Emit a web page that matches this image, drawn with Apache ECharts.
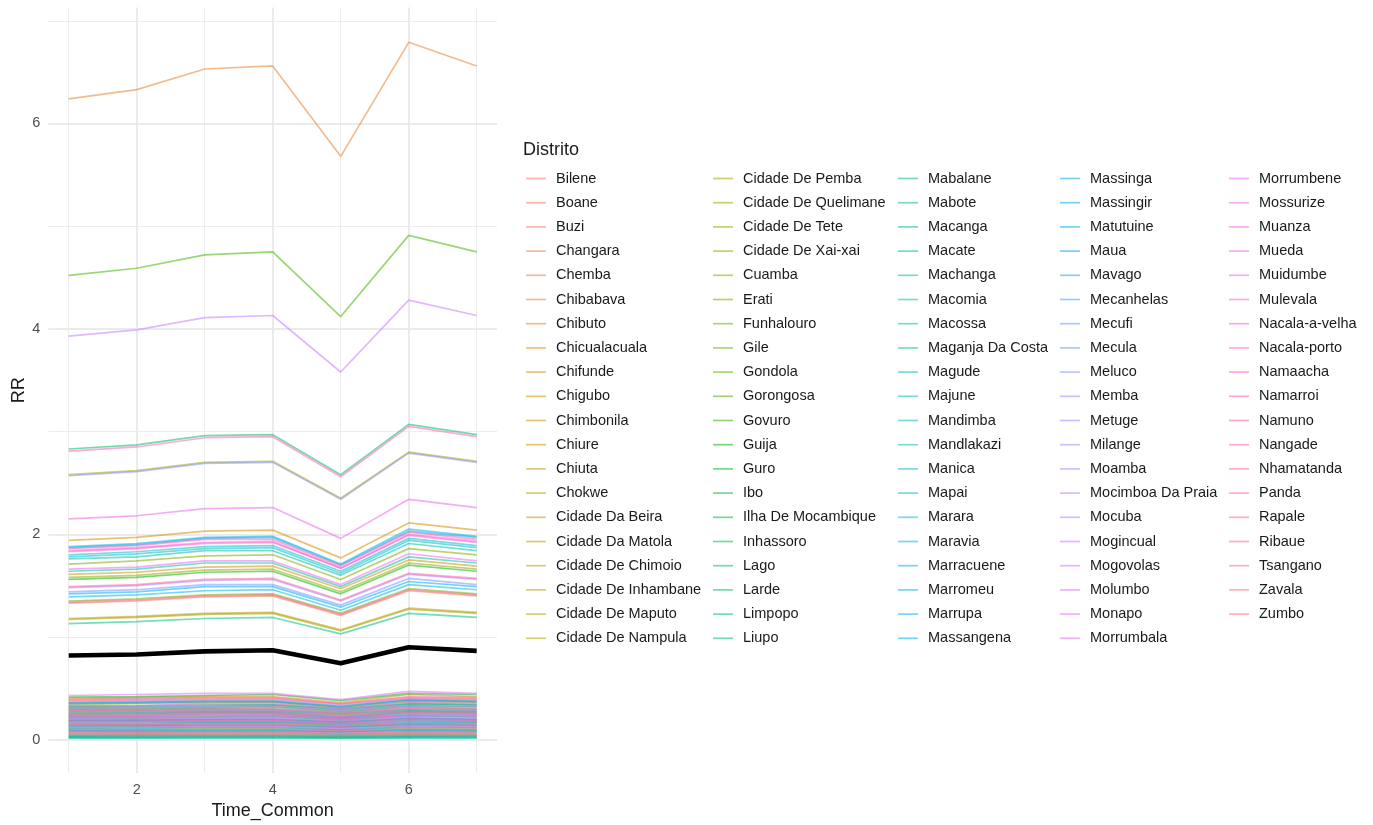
<!DOCTYPE html>
<html>
<head>
<meta charset="utf-8">
<title>RR por Distrito</title>
<script src="https://cdn.jsdelivr.net/npm/echarts@6/dist/echarts.min.js"></script>
<style>
  html, body { margin: 0; padding: 0; background: #ffffff; }
  #chart { width: 1373px; height: 825px; }
</style>
</head>
<body>
<div id="chart"></div>
<script>
// Districts, in legend order
const distritos = [
  'Bilene', 'Boane', 'Buzi', 'Changara', 'Chemba', 'Chibabava', 'Chibuto', 'Chicualacuala',
  'Chifunde', 'Chigubo', 'Chimbonila', 'Chiure', 'Chiuta', 'Chokwe', 'Cidade Da Beira',
  'Cidade Da Matola', 'Cidade De Chimoio', 'Cidade De Inhambane', 'Cidade De Maputo',
  'Cidade De Nampula', 'Cidade De Pemba', 'Cidade De Quelimane', 'Cidade De Tete',
  'Cidade De Xai-xai', 'Cuamba', 'Erati', 'Funhalouro', 'Gile', 'Gondola', 'Gorongosa',
  'Govuro', 'Guija', 'Guro', 'Ibo', 'Ilha De Mocambique', 'Inhassoro', 'Lago', 'Larde',
  'Limpopo', 'Liupo', 'Mabalane', 'Mabote', 'Macanga', 'Macate', 'Machanga', 'Macomia',
  'Macossa', 'Maganja Da Costa', 'Magude', 'Majune', 'Mandimba', 'Mandlakazi', 'Manica',
  'Mapai', 'Marara', 'Maravia', 'Marracuene', 'Marromeu', 'Marrupa', 'Massangena',
  'Massinga', 'Massingir', 'Matutuine', 'Maua', 'Mavago', 'Mecanhelas', 'Mecufi', 'Mecula',
  'Meluco', 'Memba', 'Metuge', 'Milange', 'Moamba', 'Mocimboa Da Praia', 'Mocuba',
  'Mogincual', 'Mogovolas', 'Molumbo', 'Monapo', 'Morrumbala', 'Morrumbene', 'Mossurize',
  'Muanza', 'Mueda', 'Muidumbe', 'Mulevala', 'Nacala-a-velha', 'Nacala-porto', 'Namaacha',
  'Namarroi', 'Namuno', 'Nangade', 'Nhamatanda', 'Panda', 'Rapale', 'Ribaue', 'Tsangano',
  'Zavala', 'Zumbo'
];

// Time steps on the x axis
const timeCommon = [1, 2, 3, 4, 5, 6, 7];

// RR per district (one row per district, same order as above), values at Time_Common 1..7
const rrValues = [
  [0.355, 0.36, 0.37, 0.37, 0.32, 0.39, 0.37],   // Bilene
  [1.33, 1.35, 1.39, 1.40, 1.21, 1.45, 1.40],    // Boane
  [0.195, 0.20, 0.20, 0.20, 0.18, 0.21, 0.20],   // Buzi
  [0.31, 0.31, 0.32, 0.33, 0.28, 0.34, 0.33],    // Changara
  [0.115, 0.12, 0.12, 0.12, 0.10, 0.13, 0.12],   // Chemba
  [6.24, 6.33, 6.53, 6.56, 5.68, 6.79, 6.56],    // Chibabava
  [0.03, 0.030, 0.031, 0.032, 0.027, 0.033, 0.032], // Chibuto
  [0.235, 0.24, 0.25, 0.25, 0.21, 0.26, 0.25],   // Chicualacuala
  [0.165, 0.17, 0.17, 0.17, 0.15, 0.18, 0.17],   // Chifunde
  [0.28, 0.28, 0.29, 0.29, 0.25, 0.30, 0.29],    // Chigubo
  [1.94, 1.97, 2.03, 2.04, 1.77, 2.11, 2.04],    // Chimbonila
  [0.40, 0.41, 0.42, 0.42, 0.36, 0.44, 0.42],    // Chiure
  [1.61, 1.63, 1.68, 1.69, 1.47, 1.75, 1.69],    // Chiuta
  [1.18, 1.20, 1.23, 1.24, 1.07, 1.28, 1.24],    // Chokwe
  [0.065, 0.066, 0.068, 0.068, 0.059, 0.071, 0.068], // Cidade Da Beira
  [0.22, 0.22, 0.23, 0.23, 0.20, 0.24, 0.23],    // Cidade Da Matola
  [0.14, 0.14, 0.15, 0.15, 0.13, 0.15, 0.15],    // Cidade De Chimoio
  [0.04, 0.041, 0.042, 0.042, 0.036, 0.044, 0.042], // Cidade De Inhambane
  [0.26, 0.26, 0.27, 0.27, 0.24, 0.28, 0.27],    // Cidade De Maputo
  [2.58, 2.62, 2.70, 2.71, 2.35, 2.80, 2.71],    // Cidade De Nampula
  [0.34, 0.35, 0.36, 0.36, 0.31, 0.37, 0.36],    // Cidade De Pemba
  [1.17, 1.19, 1.22, 1.23, 1.06, 1.27, 1.23],    // Cidade De Quelimane
  [1.58, 1.60, 1.65, 1.66, 1.44, 1.72, 1.66],    // Cidade De Tete
  [0.09, 0.091, 0.094, 0.095, 0.082, 0.098, 0.095], // Cidade De Xai-xai
  [1.71, 1.74, 1.79, 1.80, 1.56, 1.86, 1.80],    // Cuamba
  [0.185, 0.19, 0.19, 0.19, 0.17, 0.20, 0.19],   // Erati
  [1.35, 1.37, 1.41, 1.42, 1.23, 1.47, 1.42],    // Funhalouro
  [0.10, 0.10, 0.105, 0.105, 0.091, 0.109, 0.105], // Gile
  [0.30, 0.30, 0.31, 0.32, 0.27, 0.33, 0.32],    // Gondola
  [4.52, 4.59, 4.72, 4.75, 4.12, 4.91, 4.75],    // Gorongosa
  [0.15, 0.15, 0.16, 0.16, 0.14, 0.16, 0.16],    // Govuro
  [1.56, 1.58, 1.63, 1.64, 1.42, 1.70, 1.64],    // Guija
  [0.415, 0.42, 0.43, 0.44, 0.38, 0.45, 0.44],   // Guro
  [0.245, 0.25, 0.26, 0.26, 0.22, 0.27, 0.26],   // Ibo
  [0.02, 0.020, 0.021, 0.021, 0.018, 0.022, 0.021], // Ilha De Mocambique
  [0.21, 0.21, 0.22, 0.22, 0.19, 0.23, 0.22],    // Inhassoro
  [0.325, 0.33, 0.34, 0.34, 0.30, 0.35, 0.34],   // Lago
  [2.83, 2.87, 2.96, 2.97, 2.58, 3.07, 2.97],    // Larde
  [0.13, 0.13, 0.14, 0.14, 0.12, 0.14, 0.14],    // Limpopo
  [0.08, 0.081, 0.084, 0.084, 0.073, 0.087, 0.084], // Liupo
  [0.035, 0.036, 0.037, 0.037, 0.032, 0.038, 0.037], // Mabalane
  [1.13, 1.15, 1.18, 1.19, 1.03, 1.23, 1.19],    // Mabote
  [0.05, 0.051, 0.052, 0.053, 0.046, 0.054, 0.053], // Macanga
  [0.27, 0.27, 0.28, 0.28, 0.25, 0.29, 0.28],    // Macate
  [0.175, 0.18, 0.18, 0.18, 0.16, 0.19, 0.18],   // Machanga
  [1.64, 1.66, 1.72, 1.72, 1.49, 1.78, 1.72],    // Macomia
  [1.76, 1.78, 1.84, 1.84, 1.60, 1.91, 1.84],    // Macossa
  [0.36, 0.37, 0.38, 0.38, 0.33, 0.39, 0.38],    // Maganja Da Costa
  [0.015, 0.015, 0.016, 0.016, 0.014, 0.016, 0.016], // Magude
  [0.32, 0.32, 0.33, 0.34, 0.29, 0.35, 0.34],    // Majune
  [1.78, 1.81, 1.86, 1.87, 1.62, 1.94, 1.87],    // Mandimba
  [1.80, 1.83, 1.88, 1.89, 1.64, 1.96, 1.89],    // Mandlakazi
  [0.085, 0.086, 0.089, 0.089, 0.077, 0.092, 0.089], // Manica
  [0.29, 0.29, 0.30, 0.30, 0.26, 0.32, 0.30],    // Mapai
  [1.39, 1.41, 1.45, 1.46, 1.26, 1.51, 1.46],    // Marara
  [0.025, 0.025, 0.026, 0.026, 0.023, 0.027, 0.026], // Maravia
  [1.88, 1.91, 1.97, 1.98, 1.71, 2.05, 1.98],    // Marracuene
  [0.23, 0.23, 0.24, 0.24, 0.21, 0.25, 0.24],    // Marromeu
  [0.11, 0.11, 0.12, 0.12, 0.10, 0.12, 0.12],    // Marrupa
  [0.16, 0.16, 0.17, 0.17, 0.15, 0.17, 0.17],    // Massangena
  [1.87, 1.90, 1.96, 1.97, 1.70, 2.03, 1.97],    // Massinga
  [0.35, 0.36, 0.37, 0.37, 0.32, 0.38, 0.37],    // Massingir
  [1.42, 1.44, 1.49, 1.49, 1.29, 1.54, 1.49],    // Matutuine
  [0.19, 0.19, 0.20, 0.20, 0.17, 0.21, 0.20],    // Maua
  [0.135, 0.14, 0.14, 0.14, 0.12, 0.15, 0.14],   // Mavago
  [0.255, 0.26, 0.27, 0.27, 0.23, 0.28, 0.27],   // Mecanhelas
  [0.06, 0.061, 0.063, 0.063, 0.055, 0.065, 0.063], // Mecufi
  [1.44, 1.46, 1.51, 1.51, 1.31, 1.57, 1.51],    // Mecula
  [2.57, 2.61, 2.69, 2.70, 2.34, 2.79, 2.70],    // Meluco
  [0.305, 0.31, 0.32, 0.32, 0.28, 0.33, 0.32],   // Memba
  [0.215, 0.22, 0.22, 0.23, 0.20, 0.23, 0.23],   // Metuge
  [1.48, 1.50, 1.55, 1.56, 1.35, 1.61, 1.56],    // Milange
  [0.24, 0.24, 0.25, 0.25, 0.22, 0.26, 0.25],    // Moamba
  [0.37, 0.38, 0.39, 0.39, 0.34, 0.40, 0.39],    // Mocimboa Da Praia
  [3.93, 3.99, 4.11, 4.13, 3.58, 4.28, 4.13],    // Mocuba
  [0.20, 0.20, 0.21, 0.21, 0.18, 0.22, 0.21],    // Mogincual
  [0.17, 0.17, 0.18, 0.18, 0.15, 0.18, 0.18],    // Mogovolas
  [0.275, 0.28, 0.29, 0.29, 0.25, 0.30, 0.29],   // Molumbo
  [0.12, 0.12, 0.13, 0.13, 0.11, 0.13, 0.13],    // Monapo
  [0.43, 0.44, 0.45, 0.45, 0.39, 0.47, 0.45],    // Morrumbala
  [1.66, 1.68, 1.74, 1.74, 1.51, 1.81, 1.74],    // Morrumbene
  [2.15, 2.18, 2.25, 2.26, 1.96, 2.34, 2.26],    // Mossurize
  [0.095, 0.096, 0.099, 0.10, 0.086, 0.103, 0.10], // Muanza
  [1.84, 1.87, 1.92, 1.93, 1.67, 2.00, 1.93],    // Mueda
  [0.33, 0.33, 0.35, 0.35, 0.30, 0.36, 0.35],    // Muidumbe
  [0.225, 0.23, 0.24, 0.24, 0.20, 0.24, 0.24],   // Mulevala
  [1.83, 1.86, 1.91, 1.92, 1.67, 1.99, 1.92],    // Nacala-a-velha
  [0.145, 0.15, 0.15, 0.15, 0.13, 0.16, 0.15],   // Nacala-porto
  [0.18, 0.18, 0.19, 0.19, 0.16, 0.20, 0.19],    // Namaacha
  [2.81, 2.85, 2.94, 2.95, 2.56, 3.05, 2.95],    // Namarroi
  [0.07, 0.071, 0.073, 0.074, 0.064, 0.076, 0.074], // Namuno
  [0.39, 0.40, 0.41, 0.41, 0.35, 0.42, 0.41],    // Nangade
  [1.86, 1.89, 1.95, 1.95, 1.69, 2.02, 1.95],    // Nhamatanda
  [1.49, 1.51, 1.56, 1.57, 1.36, 1.62, 1.57],    // Panda
  [1.34, 1.36, 1.40, 1.41, 1.22, 1.46, 1.41],    // Rapale
  [0.25, 0.25, 0.26, 0.26, 0.23, 0.27, 0.26],    // Ribaue
  [0.285, 0.29, 0.30, 0.30, 0.26, 0.31, 0.30],   // Tsangano
  [0.38, 0.39, 0.40, 0.40, 0.35, 0.41, 0.40],    // Zavala
  [0.045, 0.046, 0.047, 0.047, 0.041, 0.049, 0.047]  // Zumbo
];

// Overall RR across districts (thick black line)
const rrGeral = [0.82, 0.83, 0.86, 0.87, 0.745, 0.90, 0.865];

// Axis breaks
const xBreaks = [2, 4, 6];
const xMinorBreaks = [1, 3, 5, 7];
const yBreaks = [0, 2, 4, 6];
const yMinorBreaks = [1, 3, 5, 7];

// Colour helpers: evenly spaced hues in polar CIELUV (HCL), as in a default discrete hue palette
function hclToRgb(h, c, l) {
  const hr = h * Math.PI / 180;
  const U = c * Math.cos(hr), V = c * Math.sin(hr);
  const Xn = 95.047, Yn = 100.0, Zn = 108.883;
  const den = Xn + 15 * Yn + 3 * Zn;
  const un = 4 * Xn / den, vn = 9 * Yn / den;
  const Y = l > 8 ? Yn * Math.pow((l + 16) / 116, 3) : Yn * l / 903.3;
  const u = U / (13 * l) + un, v = V / (13 * l) + vn;
  const X = Y * 9 * u / (4 * v);
  const Z = Y * (12 - 3 * u - 20 * v) / (4 * v);
  const x = X / 100, y = Y / 100, z = Z / 100;
  const lin = [
    3.240479 * x - 1.537150 * y - 0.498535 * z,
    -0.969256 * x + 1.875992 * y + 0.041556 * z,
    0.055648 * x - 0.204043 * y + 1.057311 * z
  ];
  return lin.map(ch => {
    let s = ch <= 0.0031308 ? 12.92 * ch : 1.055 * Math.pow(ch, 1 / 2.4) - 0.055;
    s = Math.max(0, Math.min(1, s));
    return Math.round(s * 255);
  });
}
function huePalette(n, alpha) {
  const out = [];
  for (let i = 0; i < n; i++) {
    const h = 15 + 360 * i / n;
    const rgb = hclToRgb(h, 100, 65);
    out.push('rgba(' + rgb[0] + ',' + rgb[1] + ',' + rgb[2] + ',' + alpha + ')');
  }
  return out;
}

const palette = huePalette(distritos.length, 0.55);
const FONT = '"Liberation Sans", Arial, Helvetica, sans-serif';

// Legend split into five columns of 20
const legendCols = [];
for (let k = 0; k < distritos.length; k += 20) legendCols.push(distritos.slice(k, k + 20));
const legendLeft = [526, 713, 898, 1060, 1229];

const legends = legendCols.map((names, k) => ({
  data: names,
  orient: 'vertical',
  left: legendLeft[k],
  top: 171,
  padding: 0,
  itemWidth: 20,
  itemHeight: 14,
  itemGap: 9.2,
  icon: 'path://M0,0H20V1.7H0Z',
  selectedMode: false,
  textStyle: { fontFamily: FONT, fontSize: 14.5, lineHeight: 14, color: '#1a1a1a', padding: [0, 0, 0, 5] }
}));

const gridMajor = { color: '#ebebeb', width: 2, type: 'solid' };
const gridMinor = { color: '#ededed', width: 1.1, type: 'solid' };

const gridLines = []
  .concat(yMinorBreaks.map(v => ({ yAxis: v, lineStyle: gridMinor })))
  .concat(xMinorBreaks.map(v => ({ xAxis: v, lineStyle: gridMinor })))
  .concat(yBreaks.map(v => ({ yAxis: v, lineStyle: gridMajor })))
  .concat(xBreaks.map(v => ({ xAxis: v, lineStyle: gridMajor })));

const series = [{
  name: '__grid',
  type: 'line',
  data: [[timeCommon[0], yBreaks[0]]],
  symbol: 'none',
  lineStyle: { opacity: 0, width: 0 },
  silent: true,
  z: 0,
  markLine: {
    silent: true,
    z: 0,
    symbol: ['none', 'none'],
    label: { show: false },
    animation: false,
    emphasis: { disabled: true },
    data: gridLines
  }
}];

distritos.forEach((name, i) => {
  series.push({
    name: name,
    type: 'line',
    data: timeCommon.map((t, j) => [t, rrValues[i][j]]),
    symbol: 'none',
    color: palette[i],
    lineStyle: { width: 1.7, color: palette[i] },
    silent: true,
    z: 2
  });
});

series.push({
  name: 'RR geral',
  type: 'line',
  data: timeCommon.map((t, j) => [t, rrGeral[j]]),
  symbol: 'none',
  color: '#000000',
  lineStyle: { width: 4.6, color: '#000000' },
  silent: true,
  z: 3
});

const chart = echarts.init(document.getElementById('chart'), null, { renderer: 'canvas' });
chart.setOption({
  animation: false,
  backgroundColor: '#ffffff',
  title: {
    text: 'Distrito',
    left: 523,
    top: 141,
    padding: 0,
    textStyle: { fontFamily: FONT, fontSize: 18, fontWeight: 'normal', color: '#1a1a1a' }
  },
  legend: legends,
  grid: { left: 48.3, right: 875.9, top: 7.4, bottom: 48.4, containLabel: false },
  xAxis: {
    type: 'value',
    min: 0.7,
    max: 7.3,
    name: 'Time_Common',
    nameLocation: 'middle',
    nameGap: 25,
    nameTextStyle: { fontFamily: FONT, fontSize: 18, color: '#1a1a1a' },
    axisLine: { show: false },
    axisTick: { show: false },
    splitLine: { show: false },
    axisLabel: {
      customValues: xBreaks,
      margin: 9,
      fontFamily: FONT,
      fontSize: 14.5,
      color: '#4d4d4d',
      formatter: v => (xBreaks.indexOf(v) >= 0 ? String(v) : '')
    }
  },
  yAxis: {
    type: 'value',
    min: -0.3255,
    max: 7.13,
    name: 'RR',
    nameLocation: 'middle',
    nameGap: 20,
    nameRotate: 90,
    nameTextStyle: { fontFamily: FONT, fontSize: 18, color: '#1a1a1a' },
    axisLine: { show: false },
    axisTick: { show: false },
    splitLine: { show: false },
    axisLabel: {
      customValues: yBreaks,
      margin: 8,
      fontFamily: FONT,
      fontSize: 14.5,
      color: '#4d4d4d',
      formatter: v => (yBreaks.indexOf(v) >= 0 ? String(v) : '')
    }
  },
  series: series
});
</script>
</body>
</html>
